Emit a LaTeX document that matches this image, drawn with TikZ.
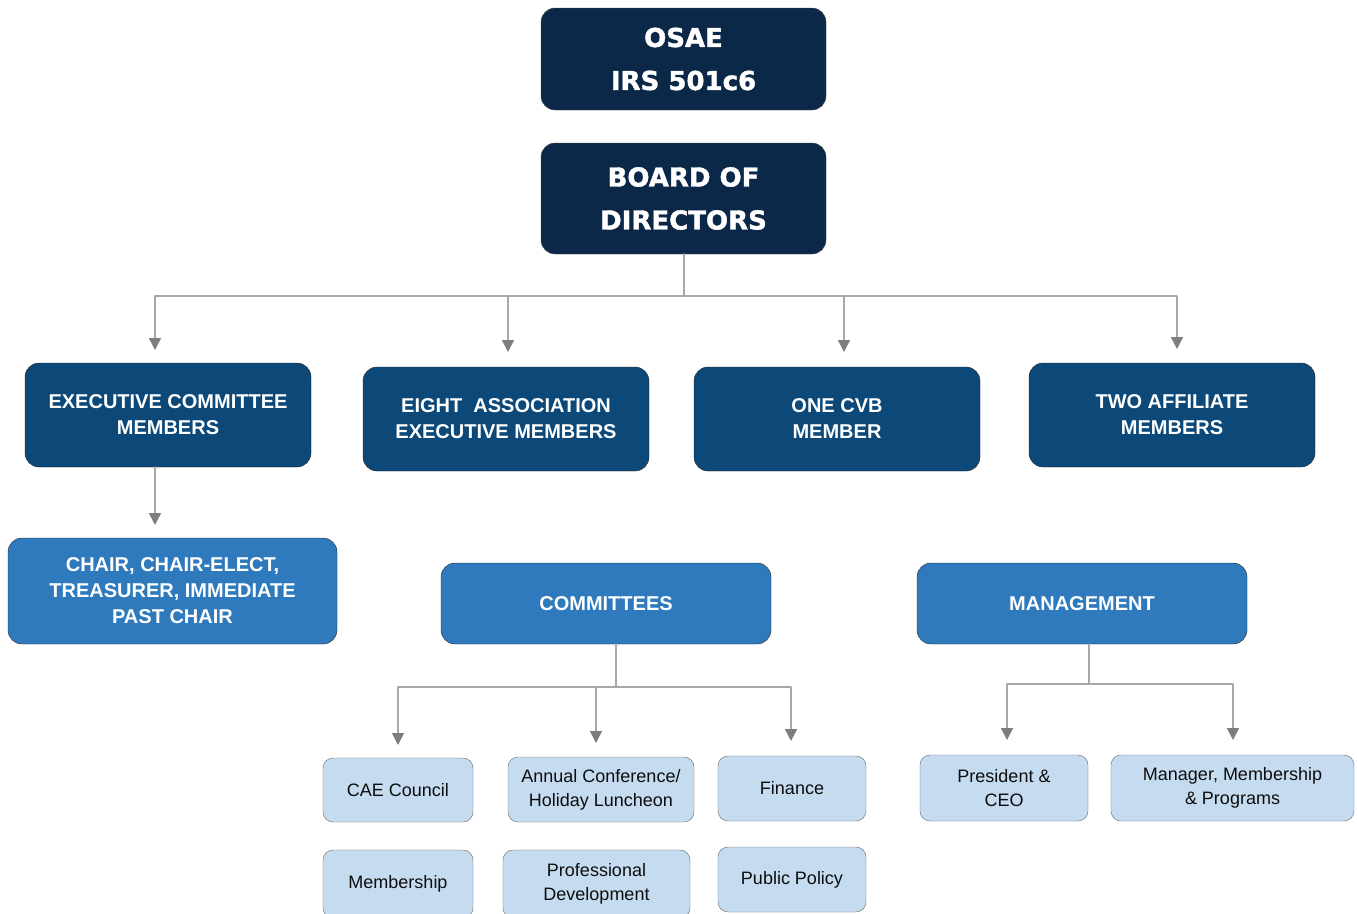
\documentclass[tikz,border=0pt]{standalone}
\usepackage{fontspec}
\setmainfont{Liberation Sans}
\newfontfamily\heavyfont{DejaVu Sans}[BoldFeatures={FakeBold=1.6}]
\usetikzlibrary{arrows.meta, positioning}
\definecolor{navydark}{RGB}{11,40,72}
\definecolor{navy}{RGB}{12,72,120}
\definecolor{midblue}{RGB}{46,122,189}
\definecolor{paleblue}{RGB}{197,220,240}
\definecolor{linegray}{RGB}{168,168,168}
\definecolor{tipgray}{RGB}{125,125,125}

\tikzset{
  topbox/.style={draw=black!70, fill=navydark, rounded corners=14pt, minimum width=285pt,
    text=white, align=center, inner sep=0pt, outer sep=0pt,
    font=\heavyfont\bfseries\fontsize{26}{43}\selectfont},
  memberbox/.style={draw=black!85, fill=navy, rounded corners=14pt, minimum width=286pt,
    minimum height=104pt, text=white, align=center, inner sep=0pt, outer sep=0pt,
    font=\bfseries\fontsize{20}{26}\selectfont},
  groupbox/.style={draw=black!85, fill=midblue, rounded corners=14pt, text=white,
    align=center, inner sep=0pt, outer sep=0pt, font=\bfseries\fontsize{20}{26}\selectfont},
  unitbox/.style={draw=black!60, fill=paleblue, rounded corners=10pt, text=black!95,
    align=center, inner sep=0pt, outer sep=0pt, font=\fontsize{18}{24}\selectfont},
  link/.style={draw=linegray, line width=1.5pt},
  arrowline/.style={link, -{Triangle[length=12pt, width=12pt, color=tipgray]}}
}

\begin{document}
\begin{tikzpicture}[x=1pt, y=-1pt, line cap=round, line join=round]
	\useasboundingbox (0,0) rectangle (1357,913);
	% top of the chart
	\node[topbox, minimum height=102pt] (osae) at (683.5,59) {OSAE\\IRS 501c6};
	\node[topbox, minimum height=111pt] (board) at (683.5,198.5) {BOARD OF\\DIRECTORS};
	
	% board members
	\node[memberbox] (exec) at (168,415) {EXECUTIVE COMMITTEE\\MEMBERS};
	\node[memberbox] (eight) at (506,419) {EIGHT\ \ ASSOCIATION\\EXECUTIVE MEMBERS};
	\node[memberbox] (cvb) at (837,419) {ONE CVB\\MEMBER};
	\node[memberbox] (affil) at (1172,415) {TWO AFFILIATE\\MEMBERS};
	
	% officers, committees and staff
	\node[groupbox, minimum width=329pt, minimum height=106pt] (chair) at (172.5,591) {CHAIR, CHAIR-ELECT,\\TREASURER, IMMEDIATE\\PAST CHAIR};
	\node[groupbox, minimum width=330pt, minimum height=81pt] (committees) at (606,603.5) {COMMITTEES};
	\node[groupbox, minimum width=330pt, minimum height=81pt] (mgmt) at (1082,603.5) {MANAGEMENT};
	
	% committees
	\node[unitbox, minimum width=150pt, minimum height=64pt] (cae) at (398,790) {CAE Council};
	\node[unitbox, minimum width=186pt, minimum height=65pt] (annual) at (601,789.5) {Annual Conference/\\Holiday Luncheon};
	\node[unitbox, minimum width=148pt, minimum height=65pt] (finance) at (792,788.5) {Finance};
	\node[unitbox, minimum width=150pt, minimum height=68pt] (membership) at (398,884) {Membership};
	\node[unitbox, minimum width=187pt, minimum height=68pt] (profdev) at (596.5,884) {Professional\\Development};
	\node[unitbox, minimum width=148pt, minimum height=65pt] (policy) at (792,879.5) {Public Policy};
	
	% staff
	\node[unitbox, minimum width=168pt, minimum height=66pt] (president) at (1004,788) {President \&\\CEO};
	\node[unitbox, minimum width=243pt, minimum height=66pt] (manager) at (1232.5,788) {Manager, Membership\\\& Programs};
	
	% board to members
	\coordinate (bus) at (684,296);
	\coordinate (execin) at (155,350);
	\coordinate (eightin) at (508,352);
	\coordinate (cvbin) at (844,352);
	\coordinate (affilin) at (1177,349);
	\draw[link] (board.south -| bus) -- (bus);
	\foreach \t in {execin, eightin, cvbin, affilin}
		\draw[arrowline] (bus) -| (\t);
	
	% executive committee to officers
	\coordinate (chairin) at (155,525);
	\draw[arrowline] (exec.south -| chairin) -- (chairin);
	
	% committees
	\coordinate (combus) at (616,687);
	\coordinate (caein) at (398,745);
	\coordinate (annualin) at (596,743);
	\coordinate (financein) at (791,741);
	\draw[link] (committees.south -| combus) -- (combus);
	\foreach \t in {caein, annualin, financein}
		\draw[arrowline] (combus) -| (\t);
	
	% management
	\coordinate (mgmtbus) at (1089,684);
	\coordinate (presin) at (1007,740);
	\coordinate (manin) at (1233,740);
	\draw[link] (mgmt.south -| mgmtbus) -- (mgmtbus);
	\foreach \t in {presin, manin}
		\draw[arrowline] (mgmtbus) -| (\t);
\end{tikzpicture}
\end{document}
